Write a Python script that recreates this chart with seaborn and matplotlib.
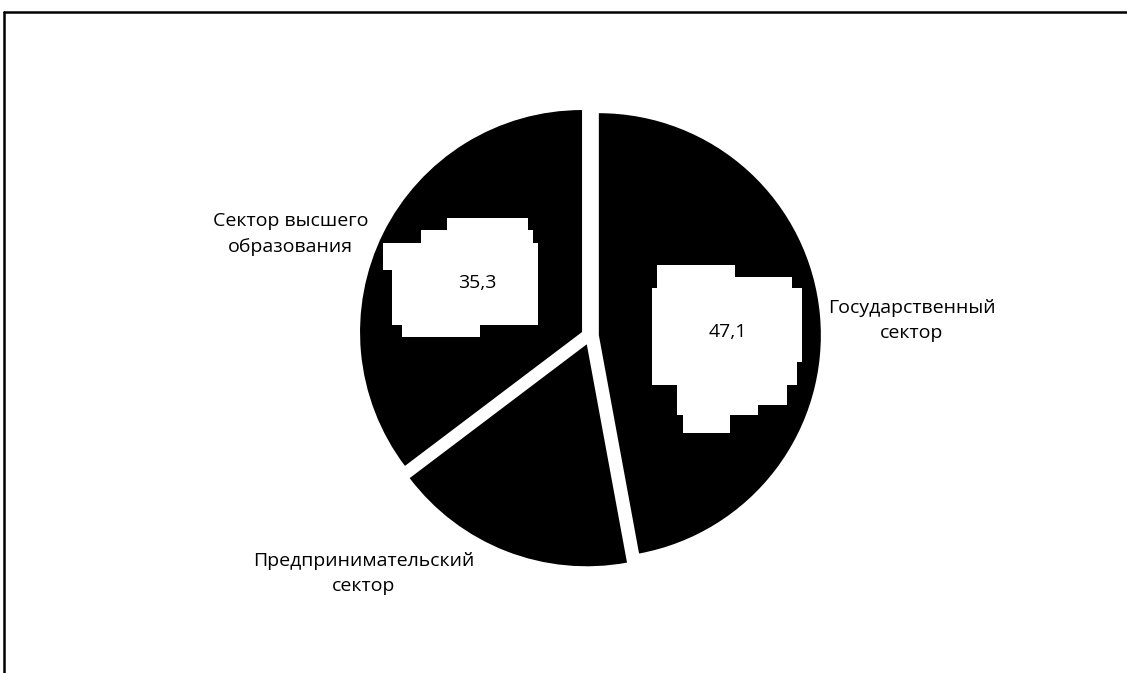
import matplotlib
matplotlib.use('Agg')
import matplotlib.pyplot as plt
import seaborn as sns

# Data
sectors = ['Государственный\nсектор', 'Предпринимательский\nсектор', 'Сектор высшего\nобразования']
shares = [47.1, 17.6, 35.3]
value_labels = ['47,1', '', '35,3']

sns.set_theme(style='white')
plt.rcParams['font.family'] = ['Open Sans', 'DejaVu Sans']

W, H = 1127, 673
fig = plt.figure(figsize=(W / 100, H / 100), dpi=100)
ax = fig.add_axes([0, 0, 1, 1])

wedges, _ = ax.pie(shares, colors=['black'] * len(shares), startangle=90, counterclock=False,
                   explode=[0.04] * len(shares), radius=1.0,
                   wedgeprops=dict(linewidth=0))

# pixel -> data mapping: pie centre at (590, 336) px, radius 222 px
cx, cy, r = 590, 336, 222
ax.set_xlim((0 - cx) / r, (W - cx) / r)
ax.set_ylim((cy - H) / r, cy / r)
ax.set_aspect('equal')
ax.axis('off')


def px_box(x0, y0, x1, y1):
    # white label backdrop given in pixel extents
    return plt.Rectangle(((x0 - cx) / r, (cy - y1) / r), (x1 - x0) / r, (y1 - y0) / r,
                         fc='white', ec='none', zorder=3)


# white stepped backdrops behind the value labels, as in the source image
backdrops = [
    (657, 265, 735, 280), (657, 277, 792, 290), (652, 288, 802, 362),
    (652, 360, 797, 385), (677, 383, 787, 405), (677, 403, 758, 415),
    (683, 413, 730, 433),
    (447, 218, 528, 232), (421, 230, 533, 245), (383, 243, 538, 270),
    (392, 265, 538, 325), (402, 320, 480, 337),
]
for box in backdrops:
    ax.add_patch(px_box(*box))

# outside category labels
label_pos = [(1.45, 0.07), (-1.02, -1.07), (-1.35, 0.46)]
for name, (x, y) in zip(sectors, label_pos):
    ax.text(x, y, name, ha='center', va='center', fontsize=14, color='black',
            linespacing=1.55)

# inside value labels
value_pos = [(0.619, 0.02), (0, 0), (-0.51, 0.24)]
for val, (x, y) in zip(value_labels, value_pos):
    if not val:
        continue
    ax.text(x, y, val, ha='center', va='center', fontsize=14, color='black', zorder=4)

# chart area border (left and top visible)
fig.add_artist(plt.Line2D([4 / W, 4 / W], [0, 1 - 12 / H], transform=fig.transFigure,
                          color='black', lw=1.8))
fig.add_artist(plt.Line2D([4 / W, 1], [1 - 12 / H, 1 - 12 / H], transform=fig.transFigure,
                          color='black', lw=1.8))

fig.savefig('out.png', dpi=100, facecolor='white')
